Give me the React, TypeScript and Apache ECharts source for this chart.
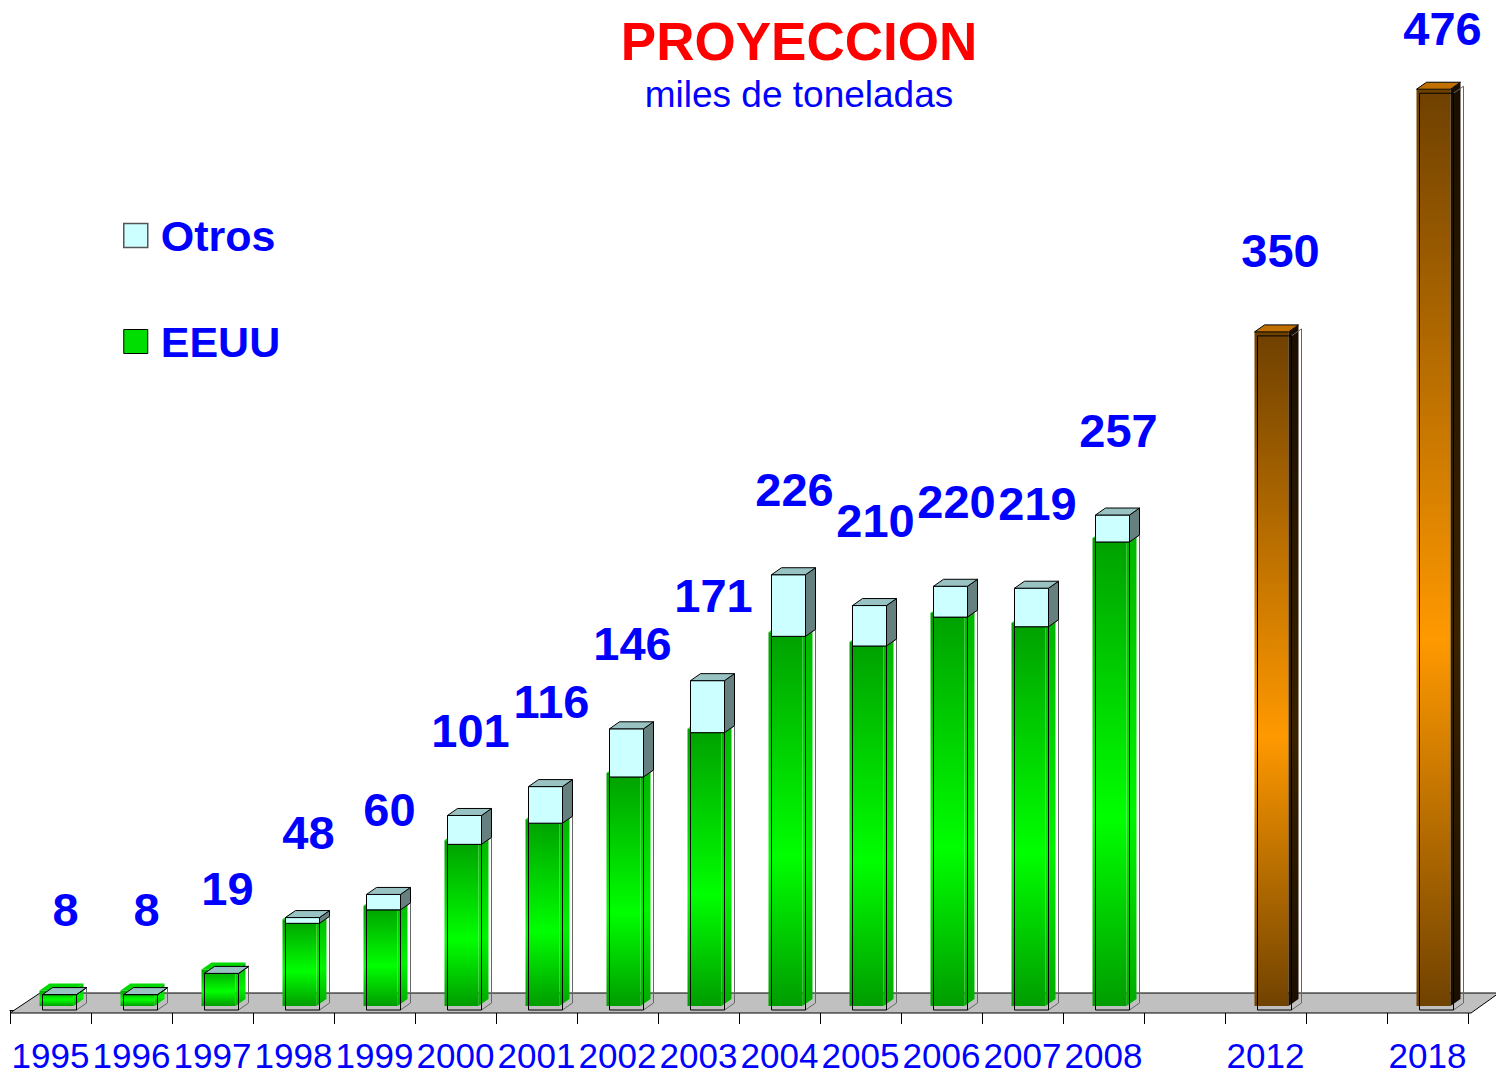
import React, { useEffect, useRef } from 'react';
import * as echarts from 'echarts';

const categories = ['1995', '1996', '1997', '1998', '1999', '2000', '2001', '2002', '2003', '2004', '2005', '2006', '2007', '2008', ' ', '2012', '  ', '2018'];
const eeuu = [8, 8, 19, 45, 52, 86, 97, 121, 144, 194, 189, 204, 199, 243, null, null, null, null];
const otros = [0, 0, 0, 3, 8, 15, 19, 25, 27, 32, 21, 16, 20, 14, null, null, null, null];
const proyeccion = [null, null, null, null, null, null, null, null, null, null, null, null, null, null, null, 350, null, 476];
const totals = [8, 8, 19, 48, 60, 101, 116, 146, 171, 226, 210, 220, 219, 257, null, 350, null, 476];

const FONT = "'Liberation Sans', Arial, Helvetica, sans-serif";
const BLUE = '#0000ff';
const DX = 10;
const DY = -7;
const BAR_W = 34;
const SHIFT = 9;
const FS_X = -3;
const FS_Y = -4;

type Pt = [number, number];
const mv = (p: Pt[], dx: number, dy: number): Pt[] => p.map(([x, y]) => [x + dx, y + dy] as Pt);

function geom(x0: number, yTop: number, yBot: number) {
  const x1 = x0 + BAR_W;
  const front: Pt[] = [[x0, yTop], [x1, yTop], [x1, yBot], [x0, yBot]];
  const side: Pt[] = [[x1, yBot], [x1 + DX, yBot + DY], [x1 + DX, yTop + DY], [x1, yTop]];
  const top: Pt[] = [[x0, yTop], [x1, yTop], [x1 + DX, yTop + DY], [x0 + DX, yTop + DY]];
  return { front, side, top };
}

const vgrad = (a: string, b: string, c: string) =>
  new echarts.graphic.LinearGradient(0, 0, 0, 1, [
    { offset: 0, color: a },
    { offset: 0.6, color: b },
    { offset: 1, color: c },
  ]);

function solidBar(api: any, base: number, val: number, colors: { front: any; side: any; top: any }, outlineSide: string) {
  const i = api.value(0);
  const [cx, yTop] = api.coord([i, val]);
  const [, yBot] = api.coord([i, base]);
  const x0 = cx + SHIFT - BAR_W / 2;
  const g = geom(x0, yTop, yBot);
  return {
    type: 'group',
    children: [
      { type: 'polygon', shape: { points: mv(g.front, FS_X, FS_Y) }, style: { fill: colors.front } },
      { type: 'polygon', shape: { points: mv(g.side, FS_X, FS_Y) }, style: { fill: colors.side } },
      { type: 'polygon', shape: { points: mv(g.top, FS_X, FS_Y) }, style: { fill: colors.top } },
      { type: 'polygon', shape: { points: g.side }, style: { fill: 'none', stroke: outlineSide, lineWidth: 1 } },
      { type: 'polygon', shape: { points: g.front }, style: { fill: 'none', stroke: '#000', lineWidth: 1 } },
    ],
  };
}

const eeuuData = eeuu.map((v, i) => (v == null ? null : [i, v])).filter(Boolean);
const otrosData = otros.map((v, i) => (v == null ? null : [i, eeuu[i] as number, (eeuu[i] as number) + v])).filter(Boolean);
const proyData = proyeccion.map((v, i) => (v == null ? null : [i, v])).filter(Boolean);
const labelData = totals.map((v, i) => (v == null ? null : [i, v])).filter(Boolean);

const option: any = {
  animation: false,
  title: {
    text: 'PROYECCION',
    subtext: 'miles de toneladas',
    left: 799,
    top: 15,
    padding: 0,
    textAlign: 'center',
    itemGap: 8,
    textStyle: { color: '#ff0000', fontSize: 53, fontWeight: 'bold', fontFamily: FONT },
    subtextStyle: { color: BLUE, fontSize: 37, fontFamily: FONT },
  },
  legend: {
    orient: 'vertical',
    left: 123,
    top: 214,
    padding: 0,
    itemWidth: 24,
    itemHeight: 24,
    itemGap: 63,
    data: [
      { name: 'Otros', icon: 'rect', itemStyle: { color: '#ccffff', borderColor: '#555', borderWidth: 1.5 } },
      { name: 'EEUU', icon: 'rect', itemStyle: { color: '#00dd00', borderColor: '#000', borderWidth: 1 } },
    ],
    textStyle: { color: BLUE, fontSize: 43, fontWeight: 'bold', fontFamily: FONT, padding: [0, 0, 0, 8] },
    selectedMode: false,
  },
  grid: { left: 10, right: 28, top: 47, bottom: 66, containLabel: false, outerBoundsMode: 'none' },
  xAxis: {
    type: 'category',
    data: categories,
    offset: 3,
    axisLine: { show: true, lineStyle: { color: '#000', width: 1 } },
    axisTick: { show: true, interval: 0, length: 14, lineStyle: { color: '#000', width: 1 } },
    axisLabel: { interval: 0, margin: 25, color: BLUE, fontSize: 35, fontFamily: FONT },
  },
  yAxis: { type: 'value', min: 0, max: 500, show: false, splitLine: { show: false } },
  series: [
    {
      type: 'custom',
      name: 'floor',
      silent: true,
      data: [[0, 0]],
      renderItem: (params: any) => {
        const cs = params.coordSys;
        const B = cs.y + cs.height + 3;
        const L = cs.x;
        const R = cs.x + cs.width + 3;
        return {
          type: 'polygon',
          shape: { points: [[L, B], [R, B], [R + 28, B - 20], [L + 30, B - 20]] },
          style: { fill: '#c0c0c0', stroke: '#000', lineWidth: 1 },
        };
      },
    },
    {
      type: 'custom',
      name: 'EEUU',
      itemStyle: { color: '#00dd00' },
      encode: { x: 0, y: 1 },
      data: eeuuData,
      renderItem: (_p: any, api: any) =>
        solidBar(api, 0, api.value(1), {
          front: vgrad('#00a000', '#00ff00', '#009c00'),
          side: vgrad('#00b400', '#00f400', '#00aa00'),
          top: '#00d800',
        }, '#666'),
    },
    {
      type: 'custom',
      name: 'Otros',
      itemStyle: { color: '#ccffff' },
      encode: { x: 0, y: 2 },
      data: otrosData,
      renderItem: (_p: any, api: any) => {
        const i = api.value(0);
        const base = api.value(1);
        const top = api.value(2);
        const [cx, yTop] = api.coord([i, top]);
        const [, yBot] = api.coord([i, base]);
        const x0 = cx + SHIFT - BAR_W / 2;
        const g = geom(x0, yTop, yBot);
        return {
          type: 'group',
          children: [
            { type: 'polygon', shape: { points: g.front }, style: { fill: '#ccffff', stroke: '#000', lineWidth: 1 } },
            { type: 'polygon', shape: { points: g.side }, style: { fill: '#668080', stroke: '#000', lineWidth: 1 } },
            { type: 'polygon', shape: { points: g.top }, style: { fill: '#99c2c2', stroke: '#000', lineWidth: 1 } },
          ],
        };
      },
    },
    {
      type: 'custom',
      name: 'Proyeccion',
      itemStyle: { color: '#ff9900' },
      encode: { x: 0, y: 1 },
      data: proyData,
      renderItem: (_p: any, api: any) => {
        const el: any = solidBar(api, 0, api.value(1), {
          front: vgrad('#6e4000', '#ff9900', '#704200'),
          side: vgrad('#1a0e00', '#3a2200', '#1a0e00'),
          top: '#c07000',
        }, '#666');
        const i = api.value(0);
        const [cx, yTop] = api.coord([i, api.value(1)]);
        const x0 = cx + SHIFT - BAR_W / 2;
        const g = geom(x0, yTop, yTop);
        el.children.push({ type: 'polygon', shape: { points: mv(g.top, FS_X, FS_Y) }, style: { fill: 'none', stroke: '#000', lineWidth: 1 } });
        return el;
      },
    },
    {
      type: 'custom',
      name: 'labels',
      silent: true,
      encode: { x: 0, y: 1 },
      data: labelData,
      renderItem: (_p: any, api: any) => {
        const i = api.value(0);
        const v = api.value(1);
        const [cx, yTop] = api.coord([i, v]);
        return {
          type: 'text',
          x: cx + 15,
          y: Math.max(28, yTop - 85),
          style: {
            text: String(v),
            fill: BLUE,
            font: `bold 47px ${FONT}`,
            align: 'center',
            verticalAlign: 'middle',
          },
        };
      },
    },
  ],
};

export default function App() {
  const ref = useRef<HTMLDivElement>(null);
  useEffect(() => {
    const chart = echarts.init(ref.current as HTMLDivElement, null, { renderer: 'svg' });
    chart.setOption(option);
    return () => chart.dispose();
  }, []);
  return <div ref={ref} style={{ position: 'absolute', left: 0, top: 0, width: 1496, height: 1076 }} />;
}
